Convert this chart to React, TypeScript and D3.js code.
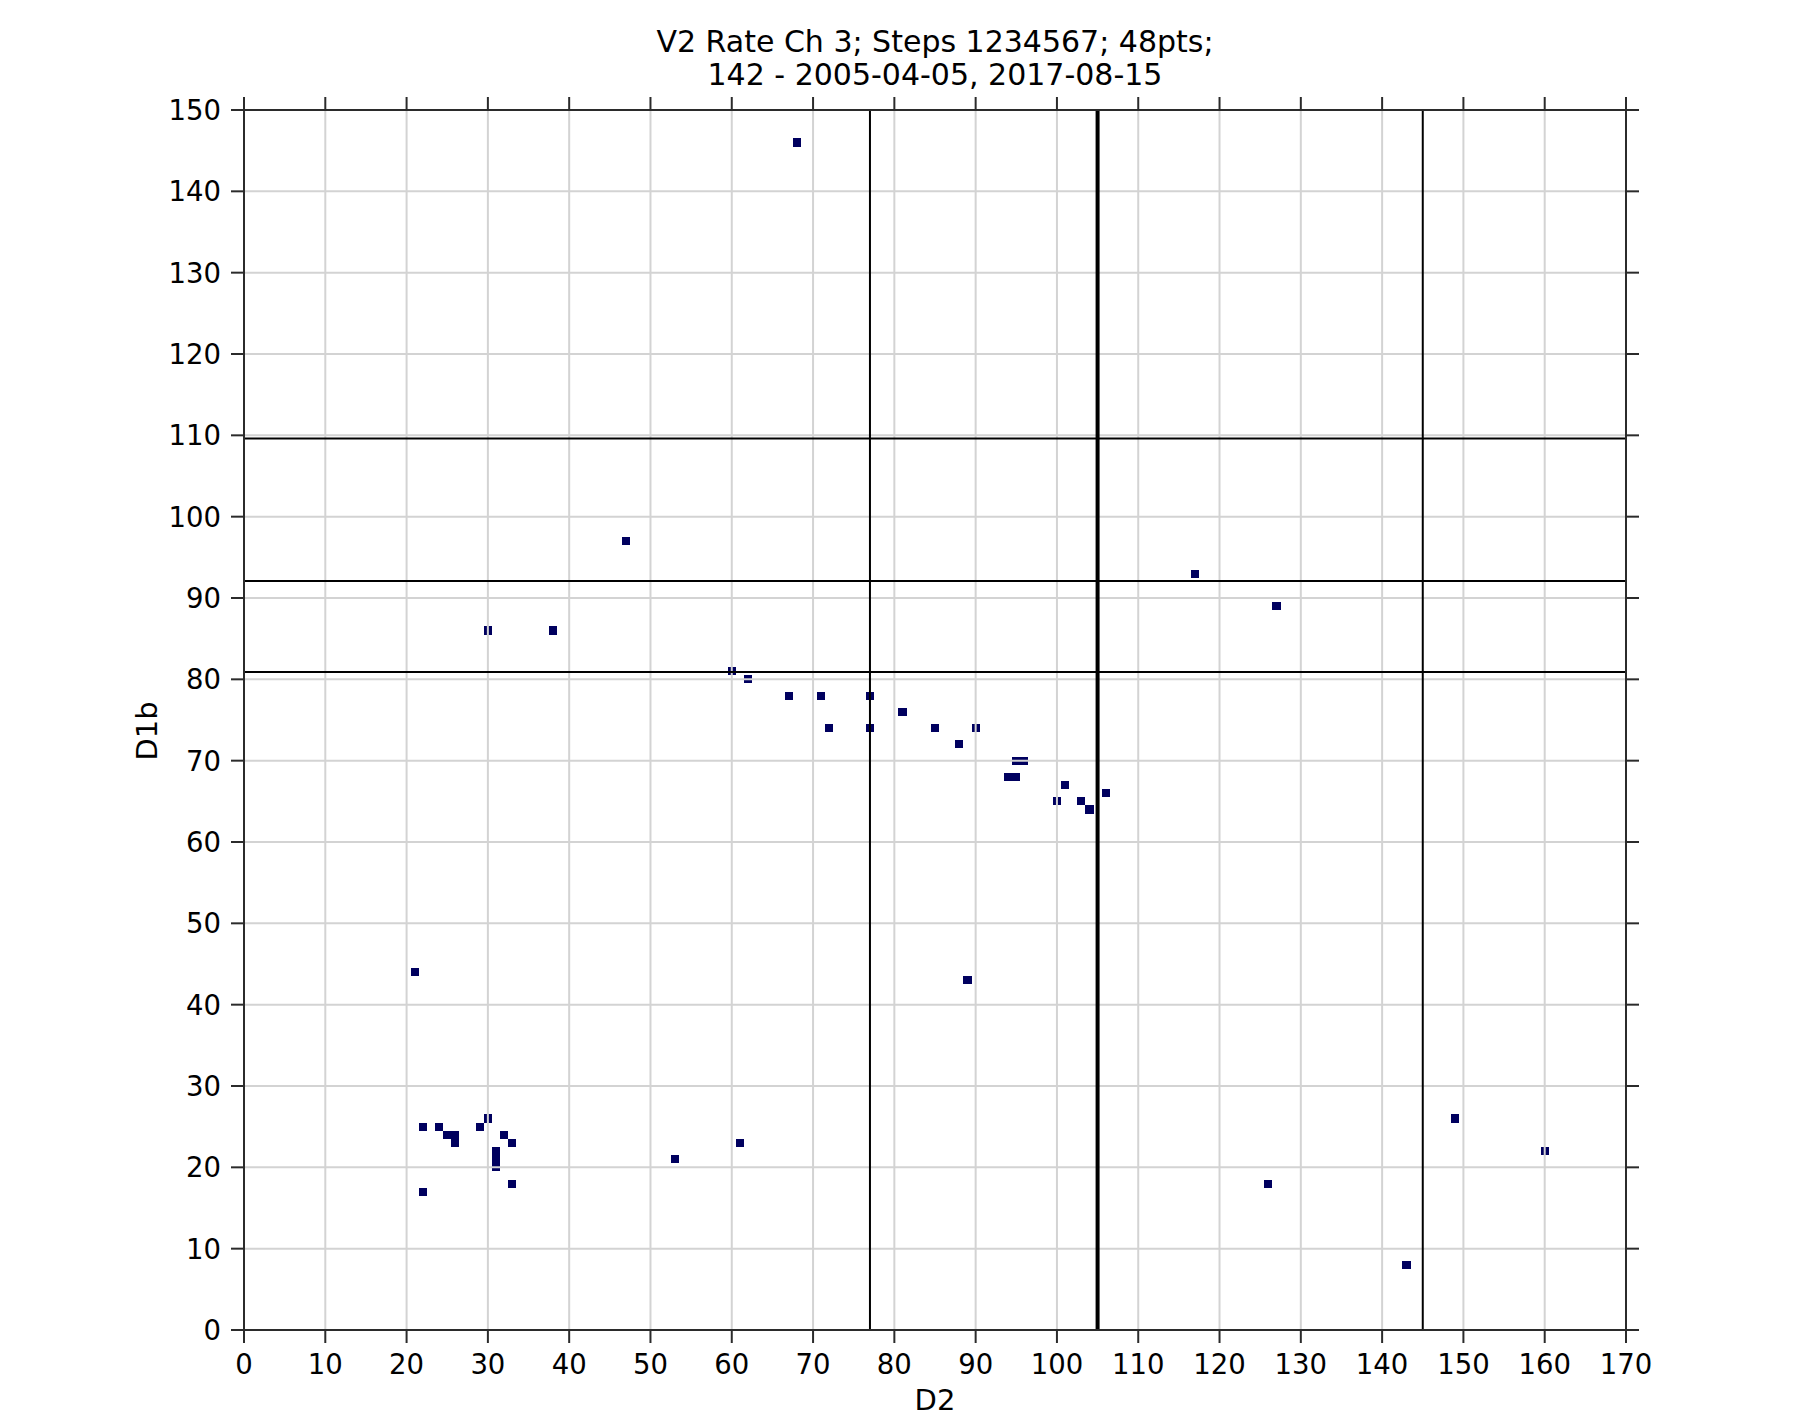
import React from "react";
import * as d3 from "d3";

const TITLE_LINES = ["V2 Rate Ch 3; Steps 1234567; 48pts;", "142 - 2005-04-05, 2017-08-15"];
const X_LABEL = "D2";
const Y_LABEL = "D1b";

const D2_VALUES = [68, 47, 117, 127, 30, 38, 60, 62, 67, 71, 77, 81, 72, 77, 85, 90, 88, 95, 96, 94, 95, 101, 106, 100, 103, 104, 21, 89, 30, 22, 24, 29, 25, 26, 32, 26, 33, 31, 31, 31, 53, 61, 22, 33, 126, 143, 149, 160];
const D1B_VALUES = [146, 97, 93, 89, 86, 86, 81, 80, 78, 78, 78, 76, 74, 74, 74, 74, 72, 70, 70, 68, 68, 67, 66, 65, 65, 64, 44, 43, 26, 25, 25, 25, 24, 24, 24, 23, 23, 22, 21, 20, 21, 23, 17, 18, 18, 8, 26, 22];

const X_TICKS = d3.range(0, 171, 10);
const Y_TICKS = d3.range(0, 151, 10);
const V_LINES = [77, 105, 145];
const V_LINE_WIDTHS = [2, 4, 2];
const H_LINES = [109.6, 92.1, 80.9];

const W = 1820;
const H = 1424;
const LEFT = 244;
const RIGHT = 1626;
const TOP = 110;
const BOTTOM = 1330;
const FONT = "'DejaVu Sans', sans-serif";
const CELL = "#00005f";
const SPINE = "#2b2b2b";
const GRID = "#d3d3d3";
const TICK_LEN = 13;

export default function App() {
  const x = d3.scaleLinear().domain([0, 170]).range([LEFT, RIGHT]);
  const y = d3.scaleLinear().domain([0, 150]).range([BOTTOM, TOP]);
  const pts = D2_VALUES.map((v, i) => ({ x: v, y: D1B_VALUES[i] }));

  return (
    <svg
      width={W}
      height={H}
      style={{ position: "absolute", left: 0, top: 0, background: "#fff" }}
      fontFamily={FONT}
    >
      <rect x={0} y={0} width={W} height={H} fill="#fff" />
      <g shapeRendering="crispEdges">
        {pts.map((p, i) => (
          <rect
            key={i}
            x={x(p.x - 0.5)}
            y={y(p.y + 0.5)}
            width={x(p.x + 0.5) - x(p.x - 0.5)}
            height={y(p.y - 0.5) - y(p.y + 0.5)}
            fill={CELL}
          />
        ))}
      </g>
      <g stroke={GRID} strokeWidth={2}>
        {X_TICKS.map((t) => (
          <line key={"gx" + t} x1={x(t)} x2={x(t)} y1={TOP} y2={BOTTOM} />
        ))}
        {Y_TICKS.map((t) => (
          <line key={"gy" + t} x1={LEFT} x2={RIGHT} y1={y(t)} y2={y(t)} />
        ))}
      </g>
      <g stroke="#000">
        {V_LINES.map((v, i) => (
          <line key={"v" + i} x1={x(v)} x2={x(v)} y1={TOP} y2={BOTTOM} strokeWidth={V_LINE_WIDTHS[i]} />
        ))}
        {H_LINES.map((v, i) => (
          <line key={"h" + i} x1={LEFT} x2={RIGHT} y1={y(v)} y2={y(v)} strokeWidth={2} />
        ))}
      </g>
      <rect x={LEFT} y={TOP} width={RIGHT - LEFT} height={BOTTOM - TOP} fill="none" stroke={SPINE} strokeWidth={2} />
      <g stroke={SPINE} strokeWidth={2}>
        {X_TICKS.map((t) => (
          <g key={"tx" + t}>
            <line x1={x(t)} x2={x(t)} y1={BOTTOM} y2={BOTTOM + TICK_LEN} />
            <line x1={x(t)} x2={x(t)} y1={TOP} y2={TOP - TICK_LEN} />
          </g>
        ))}
        {Y_TICKS.map((t) => (
          <g key={"ty" + t}>
            <line x1={LEFT} x2={LEFT - TICK_LEN} y1={y(t)} y2={y(t)} />
            <line x1={RIGHT} x2={RIGHT + TICK_LEN} y1={y(t)} y2={y(t)} />
          </g>
        ))}
      </g>
      <g fontSize={27.5} fill="#000">
        {X_TICKS.map((t) => (
          <text key={"lx" + t} x={x(t)} y={1374} textAnchor="middle">
            {t}
          </text>
        ))}
        {Y_TICKS.map((t) => (
          <text key={"ly" + t} x={221} y={y(t)} textAnchor="end" dominantBaseline="central">
            {t}
          </text>
        ))}
      </g>
      <text x={(LEFT + RIGHT) / 2} y={1410} textAnchor="middle" fontSize={29}>
        {X_LABEL}
      </text>
      <text
        transform={`translate(157, 731) rotate(-90)`}
        textAnchor="middle"
        fontSize={29}
      >
        {Y_LABEL}
      </text>
      {TITLE_LINES.map((l, i) => (
        <text key={"t" + i} x={(LEFT + RIGHT) / 2} y={52 + i * 32.5} textAnchor="middle" fontSize={30}>
          {l}
        </text>
      ))}
    </svg>
  );
}
